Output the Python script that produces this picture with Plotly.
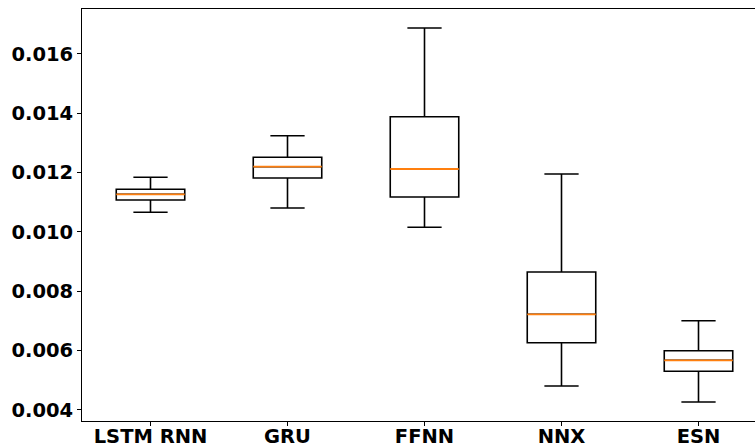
import plotly.graph_objects as go

# Box-plot statistics for each model
models = ["LSTM RNN", "GRU", "FFNN", "NNX", "ESN"]
lower_whisker = [0.010658, 0.010803, 0.010152, 0.004799, 0.004260]
q1 = [0.011073, 0.011815, 0.011174, 0.006260, 0.005295]
median = [0.011265, 0.012196, 0.012118, 0.007218, 0.005666]
q3 = [0.011433, 0.012513, 0.013882, 0.008644, 0.005990]
upper_whisker = [0.011838, 0.013241, 0.016874, 0.011949, 0.007002]

y_ticks = [0.004, 0.006, 0.008, 0.010, 0.012, 0.014, 0.016]

positions = list(range(1, len(models) + 1))
box_width = 0.5

fig = go.Figure()

fig.add_trace(go.Box(
    x=positions,
    q1=q1,
    median=median,
    q3=q3,
    lowerfence=lower_whisker,
    upperfence=upper_whisker,
    width=box_width,
    whiskerwidth=0.5,
    line=dict(color="#000000", width=1.6),
    fillcolor="rgba(0,0,0,0)",
    showlegend=False,
    hoverinfo="skip",
))

# Orange median lines drawn over the boxes
mx, my = [], []
for p, m in zip(positions, median):
    mx += [p - box_width / 2, p + box_width / 2, None]
    my += [m, m, None]
fig.add_trace(go.Scatter(
    x=mx, y=my, mode="lines",
    line=dict(color="#ff7f0e", width=1.8),
    showlegend=False, hoverinfo="skip",
))

tick_font = dict(family="DejaVu Sans", size=19.5, color="#000000")

fig.update_layout(
    width=755, height=448,
    margin=dict(l=82, r=0, t=9, b=27),
    paper_bgcolor="white",
    plot_bgcolor="white",
    xaxis=dict(
        range=[0.5, 0.5 + 673 / 137],
        tickmode="array",
        tickvals=positions,
        ticktext=[f"<b>{m}</b>" for m in models],
        tickfont=tick_font,
        ticks="outside", ticklen=4, tickcolor="#000000", tickwidth=1,
        ticklabelstandoff=-6,
        showgrid=False, zeroline=False,
        showline=True, linecolor="#000000", linewidth=1,
        mirror=True,
        automargin=False,
    ),
    yaxis=dict(
        range=[0.003619, 0.017514],
        tickmode="array",
        tickvals=y_ticks,
        ticktext=[f"<b>{t:.3f}</b>" for t in y_ticks],
        tickfont=tick_font,
        ticks="outside", ticklen=4, tickcolor="#000000", tickwidth=1,
        showgrid=False, zeroline=False,
        showline=True, linecolor="#000000", linewidth=1,
        automargin=False,
    ),
)

fig.write_html("out.html")
